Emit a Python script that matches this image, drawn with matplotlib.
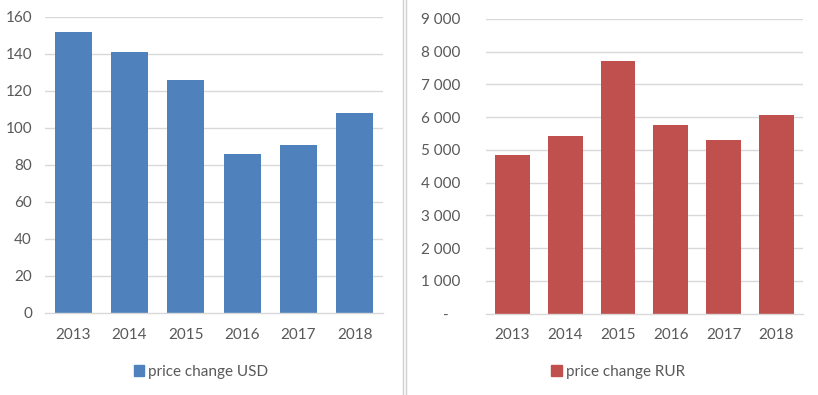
import matplotlib
matplotlib.use("Agg")
import matplotlib.pyplot as plt
from matplotlib.lines import Line2D
from matplotlib.patches import Patch

plt.rcParams["font.family"] = ["Lato", "DejaVu Sans"]

years = ["2013", "2014", "2015", "2016", "2017", "2018"]
usd_values = [152, 141, 126, 86, 91, 108]
rur_values = [4840, 5420, 7710, 5770, 5300, 6070]
usd_ticks = [0, 20, 40, 60, 80, 100, 120, 140, 160]
rur_ticks = [0, 1000, 2000, 3000, 4000, 5000, 6000, 7000, 8000, 9000]

BLUE = "#4F81BD"
RED = "#C0504D"
GRID = "#D9D9D9"
TEXT = "#595959"
FS = 11


def rur_label(v):
    if v == 0:
        return "-   "
    return f"{v:,}".replace(",", " ")


def style_axes(ax, ticks, labels, ypad):
    ax.set_xlim(-0.5, len(years) - 0.5)
    ax.set_ylim(ticks[0], ticks[-1])
    for t in ticks[1:]:
        ax.axhline(t, color=GRID, lw=1, zorder=0)
    ax.set_yticks(ticks)
    ax.set_yticklabels(labels)
    ax.set_xticks(range(len(years)))
    ax.set_xticklabels(years)
    for s in ["top", "right", "left"]:
        ax.spines[s].set_visible(False)
    ax.spines["bottom"].set_color(GRID)
    ax.spines["bottom"].set_linewidth(1)
    ax.tick_params(axis="both", length=0, colors=TEXT, labelsize=FS)
    ax.tick_params(axis="x", pad=10.5)
    ax.tick_params(axis="y", pad=ypad)


fig = plt.figure(figsize=(8.18, 3.95), dpi=100)

ax1 = fig.add_axes([0.0550, 0.2076, 0.4132, 0.7494])
x = range(len(years))
ax1.bar(x, usd_values, width=0.66, color=BLUE, zorder=2)
style_axes(ax1, usd_ticks, [str(t) for t in usd_ticks], 9.4)

ax2 = fig.add_axes([0.5941, 0.2063, 0.3875, 0.7456])
ax2.bar(x, rur_values, width=0.66, color=RED, zorder=2)
style_axes(ax2, rur_ticks, [rur_label(t) for t in rur_ticks], 18.7)

fig.legend(handles=[Patch(color=BLUE, label="price change USD")],
           loc="center", bbox_to_anchor=(0.2457, 0.0582), frameon=False,
           fontsize=FS, labelcolor=TEXT, handlelength=0.7, handleheight=0.7,
           handletextpad=0.25)
fig.legend(handles=[Patch(color=RED, label="price change RUR")],
           loc="center", bbox_to_anchor=(0.7555, 0.0582), frameon=False,
           fontsize=FS, labelcolor=TEXT, handlelength=0.7, handleheight=0.7,
           handletextpad=0.25)

# double divider between the two charts
for px in (402.5, 405.5):
    fig.add_artist(Line2D([px / 818, px / 818], [0, 1], color="#D0D0D0",
                          lw=1, transform=fig.transFigure))

fig.savefig("out.png", dpi=100)
